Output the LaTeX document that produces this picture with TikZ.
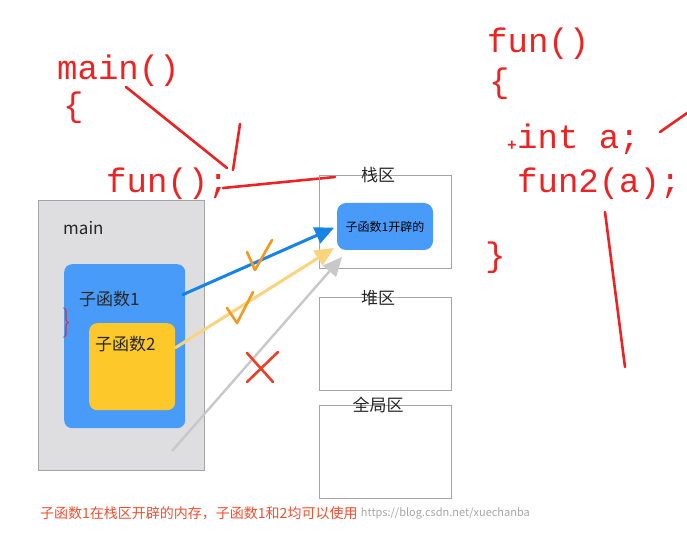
\documentclass[tikz,border=0pt]{standalone}
\usepackage{fontspec}
\setmonofont{Liberation Mono}
\newfontfamily\cjk{Noto Sans CJK SC}
\usetikzlibrary{arrows.meta}

\definecolor{penRed}{RGB}{238,34,34}
\definecolor{noteRed}{RGB}{242,78,48}
\definecolor{mainGray}{RGB}{222,222,225}
\definecolor{edgeGray}{RGB}{165,165,168}
\definecolor{subBlue}{RGB}{72,155,248}
\definecolor{arrowBlue}{RGB}{22,132,230}
\definecolor{subYellow}{RGB}{252,200,42}
\definecolor{arrowYellow}{RGB}{250,212,125}
\definecolor{arrowGray}{RGB}{200,200,202}
\definecolor{tickOrange}{RGB}{244,152,32}
\definecolor{crossRed}{RGB}{240,62,36}

\begin{document}
\begin{tikzpicture}[x=1pt, y=-1pt,
        codeText/.style={text=penRed, font=\fontsize{34}{34}\selectfont\ttfamily, inner sep=0pt, anchor=base west},
        penLine/.style={draw=penRed, line width=2.6pt, line cap=round},
        labelText/.style={font=\cjk\fontsize{17}{17}\selectfont, inner sep=0pt, text=black!85},
        regionBox/.style={draw=edgeGray, line width=1pt, minimum width=132pt, minimum height=93pt, anchor=north west, inner sep=0pt},
        subBox/.style={rounded corners=8pt, anchor=north west, inner sep=0pt},
        callArrow/.style={line width=3pt, -{Triangle[length=19pt 0, width=17pt 0]}},
        markLine/.style={line width=2.6pt, line cap=round, line join=round}
    ]
        \useasboundingbox (0,0) rectangle (687,534);

        % Code on the left
        \node[codeText] (mainCode) at (57,80) {main()};
        \node[codeText] (mainOpen) at (63,117) {\{};
        \node[codeText] (funCall) at (106,193) {fun();};

        % Code on the right
        \node[codeText] (funHead) at (487,53) {fun()};
        \node[codeText] (funOpen) at (489,93) {\{};
        \node[codeText] (intLine) at (517,149) {int a;};
        \node[text=penRed, font=\bfseries\fontsize{16}{16}\selectfont\ttfamily, inner sep=0pt] (plusMark) at (512,146) {+};
        \node[codeText] (callLine) at (517,193) {fun2(a);};
        \node[codeText] (funClose) at (485,266) {\}};

        % Pen strokes
        \coordinate (strokeA1) at (126,87);
        \coordinate (strokeA2) at (227,168);
        \coordinate (strokeB1) at (240,124);
        \coordinate (strokeB2) at (233,170);
        \coordinate (strokeC1) at (223,188);
        \coordinate (strokeC2) at (335,177);
        \coordinate (strokeD1) at (660,132);
        \coordinate (strokeD2) at (690,111);
        \coordinate (strokeE1) at (605,212);
        \coordinate (strokeE2) at (625,367);
        \draw[penLine] (strokeA1) -- (strokeA2);
        \draw[penLine] (strokeB1) -- (strokeB2);
        \draw[penLine] (strokeC1) -- (strokeC2);
        \draw[penLine] (strokeD1) -- (strokeD2);
        \draw[penLine] (strokeE1) -- (strokeE2);

        % main and its sub functions
        \node[fill=mainGray, draw=edgeGray, line width=1pt, minimum width=166pt, minimum height=270pt, anchor=north west, inner sep=0pt] (mainBox) at (38,200) {};
        \node[labelText, anchor=west] (mainLabel) at (63,228) {main};
        \node[subBox, fill=subBlue, minimum width=121pt, minimum height=164pt] (subOne) at (64,264) {};
        \node[labelText, anchor=west] (subOneLabel) at (79,299) {子函数1};
        \node[subBox, fill=subYellow, minimum width=86pt, minimum height=87pt] (subTwo) at (89,323) {};
        \node[labelText, anchor=west] (subTwoLabel) at (95,344) {子函数2};
        \node[text=penRed, font=\fontsize{30}{30}\selectfont, xscale=0.6, inner sep=0pt] (subBrace) at (66,323) {\}};

        % Memory regions
        \node[regionBox] (stackBox) at (319,175) {};
        \node[regionBox] (heapBox) at (319,297) {};
        \node[regionBox] (globalBox) at (319,405) {};
        \node[labelText] (stackLabel) at (378,175) {栈区};
        \node[labelText] (heapLabel) at (378,298) {堆区};
        \node[labelText] (globalLabel) at (378,405) {全局区};
        \node[fill=subBlue, rounded corners=9pt, minimum width=96pt, minimum height=47pt, inner sep=0pt, font=\cjk\fontsize{12}{12}\selectfont] (stackBlock) at (385,226.5) {子函数1开辟的};

        % Access arrows
        \coordinate (oneOut) at (182,295);
        \coordinate (twoOut) at (175,348);
        \coordinate (twoIn) at (334,248);
        \coordinate (mainOut) at (172,451);
        \coordinate (mainIn) at (342,257);
        \draw[callArrow, draw=arrowBlue, fill=arrowBlue, shorten >=3pt] (oneOut) -- (stackBlock.west);
        \draw[callArrow, draw=arrowYellow, fill=arrowYellow] (twoOut) -- (twoIn);
        \draw[callArrow, line width=2.4pt, draw=arrowGray, fill=arrowGray] (mainOut) -- (mainIn);

        % Ticks and cross
        \draw[markLine, draw=tickOrange] (247,252) -- (255,270) -- (272,240);
        \draw[markLine, draw=tickOrange] (227,308) -- (237,323) -- (253,292);
        \draw[markLine, draw=crossRed] (247,353) -- (273,382);
        \draw[markLine, draw=crossRed] (278,352) -- (247,382);

        % Note
        \node[anchor=west, text=noteRed, font=\cjk\fontsize{14}{14}\selectfont, inner sep=0pt] (note) at (40,513) {子函数1在栈区开辟的内存，子函数1和2均可以使用};
        \node[anchor=west, text=black!35, font=\cjk\fontsize{11}{11}\selectfont, inner sep=0pt] (watermark) at ([xshift=3pt]note.east) {https://blog.csdn.net/xuechanba};
    \end{tikzpicture}
\end{document}
